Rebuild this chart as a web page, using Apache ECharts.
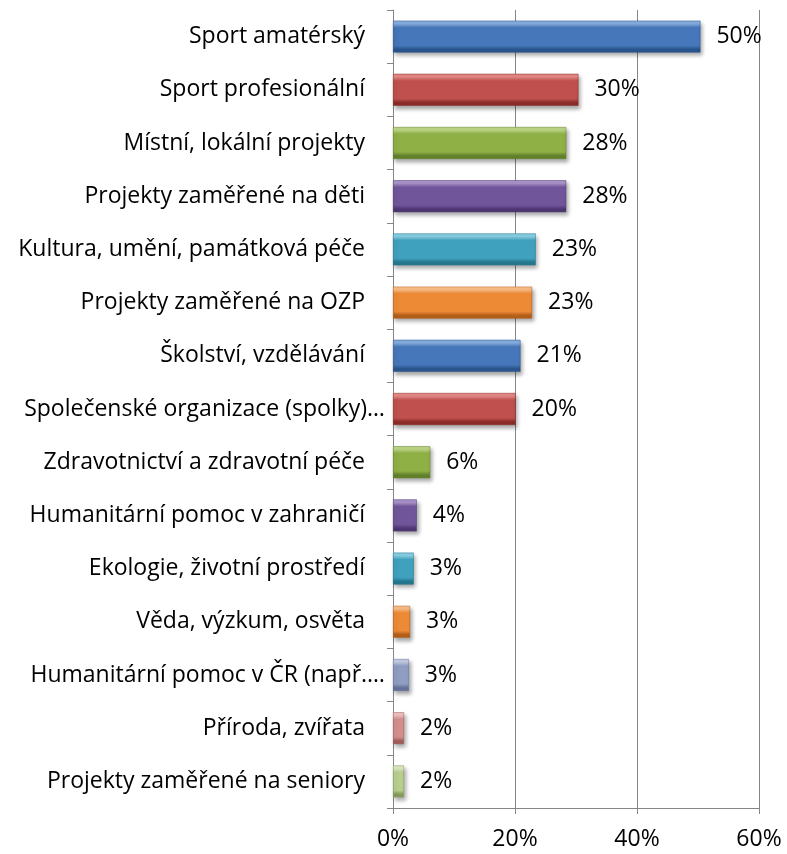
<!DOCTYPE html>
<html>
<head>
<meta charset="utf-8">
<script src="https://cdn.jsdelivr.net/npm/echarts@6/dist/echarts.min.js"></script>
<style>html,body{margin:0;padding:0;background:#fff}#c{width:787px;height:854px}</style>
</head>
<body>
<div id="c"></div>
<script>
var categories = [
  "Sport amatérský",
  "Sport profesionální",
  "Místní, lokální projekty",
  "Projekty zaměřené na děti",
  "Kultura, umění, památková péče",
  "Projekty zaměřené na OZP",
  "Školství, vzdělávání",
  "Společenské organizace (spolky)…",
  "Zdravotnictví a zdravotní péče",
  "Humanitární pomoc v zahraničí",
  "Ekologie, životní prostředí",
  "Věda, výzkum, osvěta",
  "Humanitární pomoc v ČR (např.…",
  "Příroda, zvířata",
  "Projekty zaměřené na seniory"
];
var values = [50.4, 30.4, 28.4, 28.4, 23.4, 22.8, 20.9, 20.1, 6.1, 3.9, 3.4, 2.8, 2.6, 1.8, 1.8];
var xTicks = [0, 20, 40, 60];

var palette = [
  ["#86aee0", "#4677ba", "#2a558c"],
  ["#e58986", "#c0504d", "#8a2c29"],
  ["#bcd684", "#8fb045", "#62802a"],
  ["#a993c9", "#71559b", "#4e3672"],
  ["#86cfe3", "#3fa1bd", "#25778e"],
  ["#fbbd85", "#ec8a36", "#b35f1a"],
  ["#86aee0", "#4677ba", "#2a558c"],
  ["#e58986", "#c0504d", "#8a2c29"],
  ["#bcd684", "#8fb045", "#62802a"],
  ["#a993c9", "#71559b", "#4e3672"],
  ["#86cfe3", "#3fa1bd", "#25778e"],
  ["#fbbd85", "#ec8a36", "#b35f1a"],
  ["#c3cbe3", "#8f9dc3", "#63709a"],
  ["#efc0bf", "#d48f8d", "#a05c5a"],
  ["#dde9c3", "#b9cf8f", "#879c5e"]
];

function grad(p) {
  return new echarts.graphic.LinearGradient(0, 0, 0, 1, [
    {offset: 0, color: p[0]},
    {offset: 0.1, color: p[0]},
    {offset: 0.22, color: p[1]},
    {offset: 0.78, color: p[1]},
    {offset: 0.9, color: p[2]},
    {offset: 1, color: p[2]}
  ]);
}

var data = values.map(function (v, i) {
  return {
    value: v,
    itemStyle: {
      color: grad(palette[i]),
      borderColor: palette[i][2],
      borderWidth: 0.5,
      shadowColor: "rgba(0,0,0,0.35)",
      shadowBlur: 4,
      shadowOffsetX: 2,
      shadowOffsetY: 3
    }
  };
});

var font = "Open Sans";
var chart = echarts.init(document.getElementById("c"), null, {renderer: "canvas"});
chart.setOption({
  animation: false,
  grid: {left: 393, right: 28, top: 10, bottom: 46, containLabel: false},
  xAxis: {
    type: "value",
    min: xTicks[0],
    max: xTicks[xTicks.length - 1],
    interval: 20,
    axisLine: {show: true, lineStyle: {color: "#868686", width: 1}},
    axisTick: {show: true, length: 6, lineStyle: {color: "#868686"}},
    splitLine: {show: true, lineStyle: {color: "#868686", width: 1}},
    axisLabel: {
      formatter: function (v) { return v + "%"; },
      color: "#000", fontSize: 23, fontFamily: font, margin: 20
    }
  },
  yAxis: {
    type: "category",
    data: categories,
    inverse: true,
    axisLine: {show: true, lineStyle: {color: "#868686", width: 1}},
    axisTick: {show: true, length: 6, lineStyle: {color: "#868686"}},
    axisLabel: {
      color: "#000", fontSize: 23, fontFamily: font, margin: 8,
      formatter: function (v) {
        return v.charAt(v.length - 1) === "…" ? "{t|" + v + "}" : "{n|" + v + "}";
      },
      rich: {
        t: {color: "#000", fontSize: 23, fontFamily: font},
        n: {color: "#000", fontSize: 23, fontFamily: font, padding: [0, 20, 0, 0]}
      }
    }
  },
  series: [{
    type: "bar",
    data: data,
    barCategoryGap: "40%",
    label: {
      show: true,
      position: "right",
      distance: 16,
      color: "#000",
      fontSize: 23,
      fontFamily: font,
      formatter: function (p) { return Math.round(p.value) + "%"; }
    }
  }]
});
</script>
</body>
</html>
